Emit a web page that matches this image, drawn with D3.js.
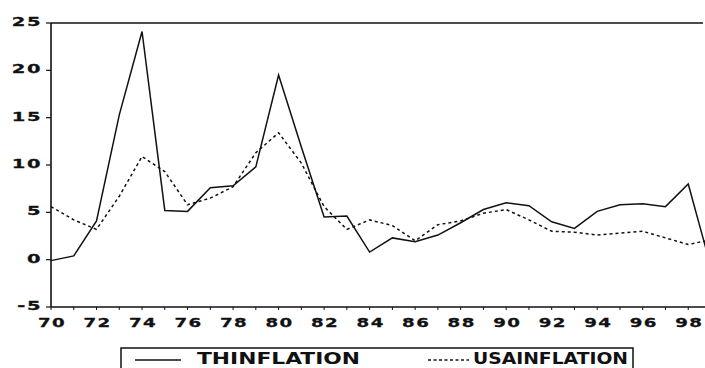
<!DOCTYPE html>
<html>
<head>
<meta charset="utf-8">
<script src="https://cdn.jsdelivr.net/npm/d3@7"></script>
<style>
    body { margin: 0; background: #fff; }
    svg { display: block; }
</style>
</head>
<body>
<div id="svgcontainer"></div>
<script>

// inflation, Thailand vs USA, 1970-1999 (percent)
var years = [70, 71, 72, 73, 74, 75, 76, 77, 78, 79,
             80, 81, 82, 83, 84, 85, 86, 87, 88, 89,
             90, 91, 92, 93, 94, 95, 96, 97, 98, 99];

var thInflation = [-0.1, 0.4, 4.1, 15.3, 24.1, 5.2, 5.1, 7.6, 7.8, 9.8,
                   19.5, 11.9, 4.5, 4.6, 0.8, 2.3, 1.9, 2.6, 3.9, 5.3,
                   6.0, 5.7, 4.0, 3.3, 5.1, 5.8, 5.9, 5.6, 8.0, -0.8];

var usaInflation = [5.6, 4.2, 3.2, 6.7, 10.9, 9.3, 5.8, 6.5, 7.7, 11.3,
                    13.4, 10.2, 5.6, 3.2, 4.2, 3.6, 2.0, 3.7, 4.1, 4.9,
                    5.3, 4.2, 3.0, 2.9, 2.6, 2.8, 3.0, 2.3, 1.6, 2.1];

var yTicks = [-5, 0, 5, 10, 15, 20, 25];
var xTicks = [70, 72, 74, 76, 78, 80, 82, 84, 86, 88, 90, 92, 94, 96, 98];

var seriesNames = ["THINFLATION", "USAINFLATION"];

window.onload = function () {

    var width = 705;
    var height = 368;

    var left = 51, top = 23, bottom = 307;
    var LABEL_FONT = "'DejaVu Sans', sans-serif";

    var svg = d3.select("#svgcontainer")
        .append("svg").attr("width", width).attr("height", height);

    var x = d3.scaleLinear().domain([70, 99]).range([left, 711]);
    var y = d3.scaleLinear().domain([-5, 25]).range([bottom, top]);

    // frame: top, left, bottom
    svg.append("line")
        .attr("x1", left).attr("x2", 703)
        .attr("y1", top).attr("y2", top)
        .attr("stroke", "#111").attr("stroke-width", 1.6);
    svg.append("line")
        .attr("x1", left).attr("x2", left)
        .attr("y1", top).attr("y2", bottom)
        .attr("stroke", "#111").attr("stroke-width", 1.6);
    svg.append("line")
        .attr("x1", left).attr("x2", width)
        .attr("y1", bottom).attr("y2", bottom)
        .attr("stroke", "#111").attr("stroke-width", 1.6);

    // y ticks
    svg.selectAll(".ytick")
        .data(yTicks)
        .enter().append("line")
        .attr("class", "ytick")
        .attr("x1", left - 5).attr("x2", left)
        .attr("y1", function (d) { return y(d); })
        .attr("y2", function (d) { return y(d); })
        .attr("stroke", "#111").attr("stroke-width", 1.2);

    svg.selectAll(".ylabel")
        .data(yTicks)
        .enter().append("text")
        .attr("class", "ylabel")
        .attr("transform", function (d) {
            return "translate(42," + (y(d) + 3) + ") scale(1.5,1)";
        })
        .attr("text-anchor", "end")
        .style("font-family", LABEL_FONT)
        .style("font-weight", "bold")
        .style("font-size", "13px")
        .style("letter-spacing", "1px")
        .style("fill", "#111")
        .style("stroke", "#111")
        .style("stroke-width", 0.3)
        .text(function (d) { return d < 0 ? "-" + Math.abs(d) : d; });

    // x ticks, one per year
    svg.selectAll(".xtick")
        .data(years)
        .enter().append("line")
        .attr("class", "xtick")
        .attr("x1", function (d) { return x(d); })
        .attr("x2", function (d) { return x(d); })
        .attr("y1", bottom).attr("y2", bottom + 3)
        .attr("stroke", "#111").attr("stroke-width", 1);

    svg.selectAll(".xlabel")
        .data(xTicks)
        .enter().append("text")
        .attr("class", "xlabel")
        .attr("transform", function (d) {
            return "translate(" + (x(d) + 1) + ",327) scale(1.4,1)";
        })
        .attr("text-anchor", "middle")
        .style("font-family", LABEL_FONT)
        .style("font-weight", "bold")
        .style("font-size", "13px")
        .style("letter-spacing", "1px")
        .style("fill", "#111")
        .style("stroke", "#111")
        .style("stroke-width", 0.3)
        .text(function (d) { return d; });

    // series lines
    var line = d3.line()
        .x(function (d) { return x(d[0]); })
        .y(function (d) { return y(d[1]); });

    svg.append("path")
        .datum(d3.zip(years, usaInflation))
        .attr("d", line)
        .attr("fill", "none")
        .attr("stroke", "#111")
        .attr("stroke-width", 1.5)
        .attr("stroke-dasharray", "3,3");

    svg.append("path")
        .datum(d3.zip(years, thInflation))
        .attr("d", line)
        .attr("fill", "none")
        .attr("stroke", "#111")
        .attr("stroke-width", 1.5);

    /**
     * Legend
     */
    svg.append("rect")
        .attr("x", 121).attr("y", 348)
        .attr("width", 512).attr("height", 40)
        .attr("fill", "none")
        .attr("stroke", "#111").attr("stroke-width", 1.5);

    svg.append("line")
        .attr("x1", 135).attr("x2", 181)
        .attr("y1", 360).attr("y2", 360)
        .attr("stroke", "#111").attr("stroke-width", 1.5);
    svg.append("line")
        .attr("x1", 428).attr("x2", 469)
        .attr("y1", 360).attr("y2", 360)
        .attr("stroke", "#111").attr("stroke-width", 1.5)
        .attr("stroke-dasharray", "3,2.5");

    var legendText = [[197, 163], [473, 155]];
    svg.selectAll(".legend")
        .data(seriesNames)
        .enter().append("text")
        .attr("class", "legend")
        .attr("x", function (d, i) { return legendText[i][0]; })
        .attr("y", 364)
        .attr("textLength", function (d, i) { return legendText[i][1]; })
        .attr("lengthAdjust", "spacingAndGlyphs")
        .style("font-family", LABEL_FONT)
        .style("font-weight", "bold")
        .style("font-size", "15px")
        .style("fill", "#111")
        .text(function (d) { return d; });
};
</script>
</body>
</html>
